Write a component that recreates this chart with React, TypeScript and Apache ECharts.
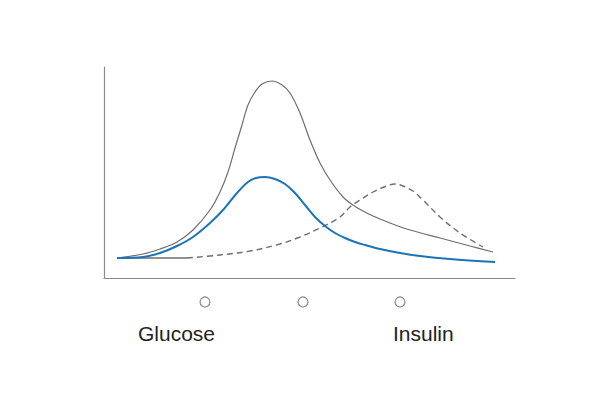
import React, { useEffect, useRef } from "react";
import * as echarts from "echarts";

// x: time units, y: concentration units
const glucoseNoDrugX = [13, 39, 56, 73, 89, 106, 116, 124, 131, 138, 144, 151, 158, 168, 178, 186, 196, 206, 216, 226, 239, 249, 259, 269, 286, 306, 336, 366, 389];
const glucoseNoDrugY = [20, 24, 29, 36, 48, 68, 86, 106, 130, 153, 173, 186, 194, 197, 193, 185, 165, 138, 115, 98, 81, 73, 67, 62, 55, 48, 40, 32, 26];

const glucoseX = [13, 39, 56, 73, 89, 106, 119, 133, 144, 152, 161, 171, 181, 191, 201, 211, 221, 231, 241, 251, 261, 276, 296, 316, 346, 391];
const glucoseY = [20, 21, 25, 32, 41, 55, 68, 85, 96, 100, 101, 99, 94, 85, 73, 61, 52, 45, 40, 36, 33, 29, 25, 22, 19, 16];

const insulinBaseX = [13, 83];
const insulinBaseY = [20, 20];

const insulinX = [83, 116, 146, 176, 196, 216, 236, 246, 256, 269, 280, 291, 299, 309, 319, 336, 356, 379];
const insulinY = [20, 23, 27, 34, 41, 50, 61, 71, 78, 86, 91, 94, 92, 87, 78, 61, 45, 31];

const markerLabels = ["Glucose", "", "Insulin"];

const pair = (xs: number[], ys: number[]) => xs.map((x, i) => [x, ys[i]]);

export default function App() {
  const ref = useRef<HTMLDivElement>(null);
  useEffect(() => {
    const chart = echarts.init(ref.current!, null, { renderer: "svg" });
    const axisLine = { show: true, lineStyle: { color: "#8a8a8a", width: 1.2 } };
    const circles = [205, 303, 400].map((cx) => ({
      type: "circle",
      shape: { cx, cy: 302, r: 5 },
      style: { fill: "#fff", stroke: "#8a8a8a", lineWidth: 1.2 },
    }));
    chart.setOption({
      animation: false,
      backgroundColor: "#fff",
      grid: { left: 104, right: 85, top: 67, bottom: 122 },
      xAxis: {
        type: "value", min: 0, max: 411,
        axisLine, axisTick: { show: false }, axisLabel: { show: false }, splitLine: { show: false },
      },
      yAxis: {
        type: "value", min: 0, max: 211,
        axisLine, axisTick: { show: false }, axisLabel: { show: false }, splitLine: { show: false },
      },
      series: [
        {
          type: "line", data: pair(insulinBaseX, insulinBaseY), showSymbol: false,
          lineStyle: { color: "#6e6e6e", width: 1.3 },
        },
        {
          type: "line", data: pair(insulinX, insulinY), showSymbol: false, smooth: 0.35,
          lineStyle: { color: "#6e6e6e", width: 1.4, type: [6, 4] },
        },
        {
          type: "line", data: pair(glucoseNoDrugX, glucoseNoDrugY), showSymbol: false, smooth: 0.35,
          lineStyle: { color: "#6e6e6e", width: 1.2 },
        },
        {
          type: "line", data: pair(glucoseX, glucoseY), showSymbol: false, smooth: 0.35,
          lineStyle: { color: "#1a74b8", width: 2 },
        },
      ],
      graphic: [
        ...circles,
        {
          type: "text", left: 138, top: 323,
          style: { text: markerLabels[0], font: "21px 'Liberation Sans', Arial, sans-serif", fill: "#222" },
        },
        {
          type: "text", left: 393, top: 323,
          style: { text: markerLabels[2], font: "21px 'Liberation Sans', Arial, sans-serif", fill: "#222" },
        },
      ],
    });
    return () => chart.dispose();
  }, []);
  return <div ref={ref} style={{ width: 600, height: 400, margin: -8 }} />;
}
